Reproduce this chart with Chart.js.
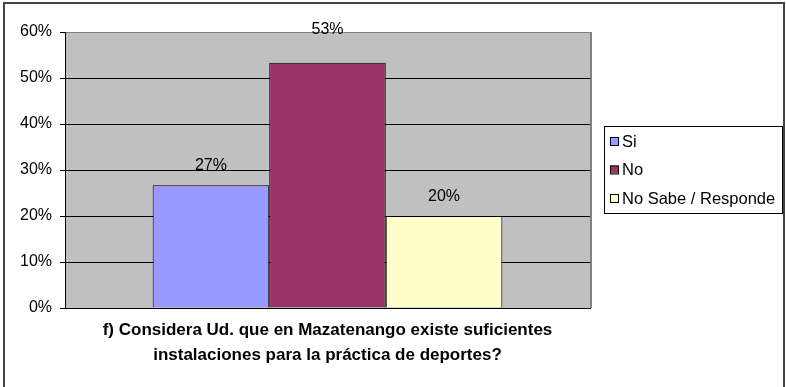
<!DOCTYPE html>
<html>
<head>
<meta charset="utf-8">
<script src="https://cdn.jsdelivr.net/npm/chart.js@4"></script>
<style>
  html, body { margin: 0; padding: 0; background: #fff; }
  #wrap { width: 786px; height: 387px; }
</style>
</head>
<body>
<div id="wrap"><canvas id="chart" width="786" height="387"></canvas></div>
<script>
// Chart values
const categories = [''];
const seriesNames = ['Si', 'No', 'No Sabe / Responde'];
const siValues = [26.67];
const noValues = [53.33];
const nsrValues = [20];
const tickLabels = ['0%', '10%', '20%', '30%', '40%', '50%', '60%'];
const axisTitle = ['f) Considera Ud. que en Mazatenango existe suficientes', 'instalaciones para la práctica de deportes?'];

const FONT = '"Liberation Sans", Arial, sans-serif';

// grey plot background + outer frame
const backgroundPlugin = {
  id: 'background',
  beforeDraw(chart) {
    const { ctx, chartArea: a } = chart;
    ctx.save();
    ctx.fillStyle = '#fff';
    ctx.fillRect(0, 0, chart.width, chart.height);
    ctx.strokeStyle = '#444';
    ctx.lineWidth = 2;
    ctx.strokeRect(4, 3, 780, 386);
    ctx.fillStyle = '#C0C0C0';
    ctx.fillRect(a.left, a.top, a.right - a.left, a.bottom - a.top);
    ctx.strokeStyle = '#808080';
    ctx.lineWidth = 2;
    ctx.beginPath();
    ctx.moveTo(a.right + 1, a.top);
    ctx.lineTo(a.right + 1, a.bottom);
    ctx.stroke();
    ctx.restore();
  }
};

// value labels above the bars
const valueLabels = {
  id: 'valueLabels',
  afterDatasetsDraw(chart) {
    const { ctx } = chart;
    ctx.save();
    ctx.font = '16px ' + FONT;
    ctx.fillStyle = '#000';
    ctx.textAlign = 'center';
    ctx.textBaseline = 'middle';
    chart.data.datasets.forEach((ds, i) => {
      chart.getDatasetMeta(i).data.forEach((bar, j) => {
        ctx.fillText(Math.round(ds.data[j]) + '%', bar.x, bar.y - ds.labelOffset);
      });
    });
    ctx.restore();
  }
};

// boxed legend on the right
const boxLegend = {
  id: 'boxLegend',
  afterDraw(chart) {
    const { ctx, chartArea: a } = chart;
    const left = a.right + 14, top = a.top + 94, w = 178, h = 87;
    ctx.save();
    ctx.fillStyle = '#fff';
    ctx.fillRect(left, top, w, h);
    ctx.strokeStyle = '#000';
    ctx.lineWidth = 1;
    ctx.strokeRect(left + 0.5, top + 0.5, w, h);
    ctx.font = '16.5px ' + FONT;
    ctx.textBaseline = 'middle';
    chart.data.datasets.forEach((ds, i) => {
      const y = top + 15 + i * 28.5;
      ctx.fillStyle = ds.backgroundColor;
      ctx.fillRect(left + 6, y - 4, 8, 8);
      ctx.strokeStyle = '#000';
      ctx.strokeRect(left + 6.5, y - 3.5, 8, 8);
      ctx.fillStyle = '#000';
      ctx.fillText(ds.label, left + 18, y + 1);
    });
    ctx.restore();
  }
};

new Chart(document.getElementById('chart'), {
  type: 'bar',
  data: {
    labels: categories,
    datasets: [
      { label: seriesNames[0], data: siValues, backgroundColor: '#9999FF', labelOffset: 20 },
      { label: seriesNames[1], data: noValues, backgroundColor: '#993366', labelOffset: 33 },
      { label: seriesNames[2], data: nsrValues, backgroundColor: '#FFFFCC', labelOffset: 19 }
    ]
  },
  options: {
    responsive: false,
    animation: false,
    layout: { padding: { left: 4, right: 196, top: 32, bottom: 0 } },
    datasets: {
      bar: {
        borderColor: '#000',
        borderWidth: 1,
        categoryPercentage: 0.666,
        barPercentage: 1
      }
    },
    plugins: {
      legend: { display: false },
      tooltip: { enabled: false }
    },
    scales: {
      x: {
        grid: { display: false },
        border: { display: true, color: '#000', width: 1 },
        ticks: { display: false },
        title: {
          display: true,
          text: axisTitle,
          color: '#000',
          font: { family: FONT, size: 17, weight: 'bold', lineHeight: 1.42 },
          padding: { top: 0, bottom: 20 }
        },
        afterFit(scale) { scale.height = 79; }
      },
      y: {
        min: 0,
        max: 60,
        ticks: {
          stepSize: 10,
          color: '#000',
          padding: 8,
          font: { family: FONT, size: 16 },
          callback: (v) => tickLabels[Math.round(v / 10)]
        },
        grid: {
          color: (c) => (c.tick && c.tick.value === 60 ? '#808080' : '#000'),
          tickColor: '#000',
          tickLength: 5,
          lineWidth: 1
        },
        border: { display: true, color: '#000', width: 1 },
        afterFit(scale) { scale.width = 61; }
      }
    }
  },
  plugins: [backgroundPlugin, valueLabels, boxLegend]
});
</script>
</body>
</html>
